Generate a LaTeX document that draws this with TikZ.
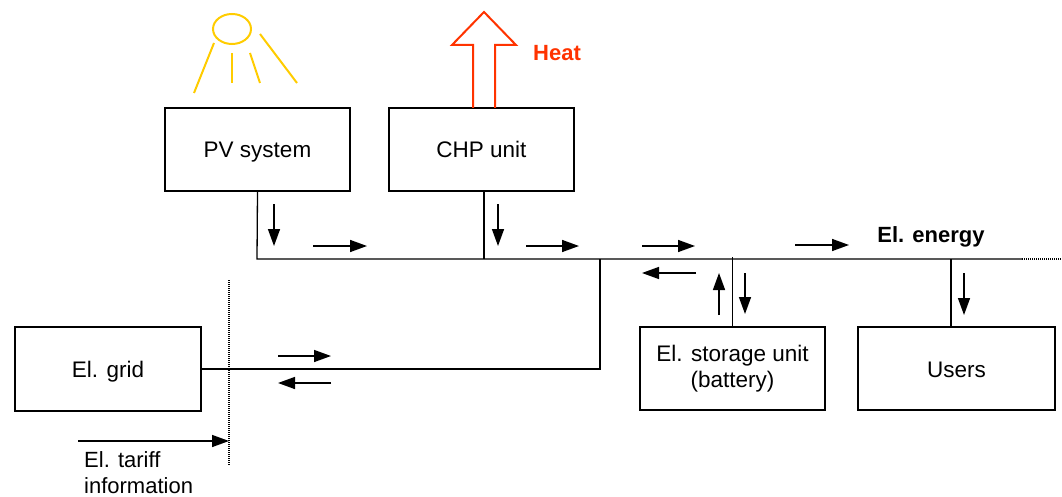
\documentclass[tikz,border=0pt]{standalone}
\usepackage{fontspec}
\setmainfont{Liberation Sans}
\usetikzlibrary{arrows.meta,calc}
\definecolor{sunc}{RGB}{255,204,0}
\definecolor{heatc}{RGB}{255,51,0}
\tikzset{
  box/.style={draw, line width=2pt, minimum width=185pt, minimum height=83pt, inner sep=0pt, align=center, font=\fontsize{22.5}{26}\selectfont},
  onebox/.style={box, text height=21pt, text depth=4pt},
  conn/.style={line width=1.3pt},
  flow/.style={line width=1.5pt, -{Triangle[length=17pt,width=12pt]}},
  sunray/.style={draw=sunc, line width=2pt},
  lbl/.style={font=\fontsize{22}{26.5}\selectfont, inner sep=0pt}
}
\begin{document}
\begin{tikzpicture}[x=1pt,y=-1pt]
\useasboundingbox (0,0) rectangle (1062,497);
% boxes
\node[onebox] (pv) at (257.5,149.5) {PV system};
\node[onebox] (chp) at (481.5,149.5) {CHP unit};
\node[onebox, minimum width=186pt, minimum height=84pt] (grid) at (108,369) {El. grid};
\node[box] (stor) at (732.5,368.5) {El. storage unit\\(battery)};
\node[onebox, minimum width=197pt] (users) at (956.5,368.5) {Users};
% sun
\draw[sunray] (232,29) ellipse [x radius=19, y radius=15];
\draw[sunray] (214,43) -- (194,93);
\draw[sunray] (232,53) -- (232,83);
\draw[sunray] (250,53) -- (260,83);
\draw[sunray] (260,34) -- (297,83);
% heat arrow
\draw[heatc, line width=2pt, line join=miter] (473,108) -- (473,45) -- (452,45) -- (484,12) -- (516,45) -- (495,45) -- (495,108);
\node[lbl, anchor=west, text=heatc, font=\fontsize{22}{26}\selectfont\bfseries] (heat) at (533,53) {Heat};
% bus
\coordinate (busL) at (257,259);
\coordinate (busR) at (1022,259);
\coordinate (busEnd) at (1062,259);
\coordinate (busG) at (600,259);
\draw[conn] (pv.south) -- (busL) -- (busR);
\draw[conn, dash pattern=on 1pt off 1pt] (busR) -- (busEnd);
\draw[conn] ([xshift=2.5pt]chp.south) -- ([xshift=2.5pt]chp.south |- busL);
\draw[conn] (stor.north) -- ($(stor.north |- busL)+(0,-2)$);
\draw[conn] ([xshift=-5.5pt]users.north) -- ([xshift=-5.5pt]users.north |- busL);
\draw[conn] (busG) -- (busG |- grid.east) -- (grid.east);
\node[lbl, anchor=center, font=\fontsize{22}{26}\selectfont\bfseries] (elen) at (931,237) {El. energy};
% dotted boundary
\coordinate (dotT) at (229,280);
\coordinate (dotB) at (229,466);
\draw[line width=1.8pt, dash pattern=on 1pt off 1pt] (dotT) -- (dotB);
\coordinate (tarS) at (78,441);
\draw[flow] (tarS) -- (tarS -| dotT);
\node[lbl, anchor=north west, align=left, font=\fontsize{22}{26}\selectfont] (tariff) at (84,451) {El. tariff\\information};
% flow arrows
\draw[flow] (274,204) -- (274,246);
\draw[flow] (313,246) -- (367,246);
\draw[flow] (498,204) -- (498,246);
\draw[flow] (526,246) -- (579,246);
\draw[flow] (642,246) -- (695,246);
\draw[flow] (795,245) -- (849,245);
\draw[flow] (696,273) -- (642,273);
\draw[flow] (719,315) -- (719,273);
\draw[flow] (745,273) -- (745,314);
\draw[flow] (964,273) -- (964,315);
\draw[flow] (278,356) -- (331,356);
\draw[flow] (331,383) -- (278,383);
\end{tikzpicture}
\end{document}
